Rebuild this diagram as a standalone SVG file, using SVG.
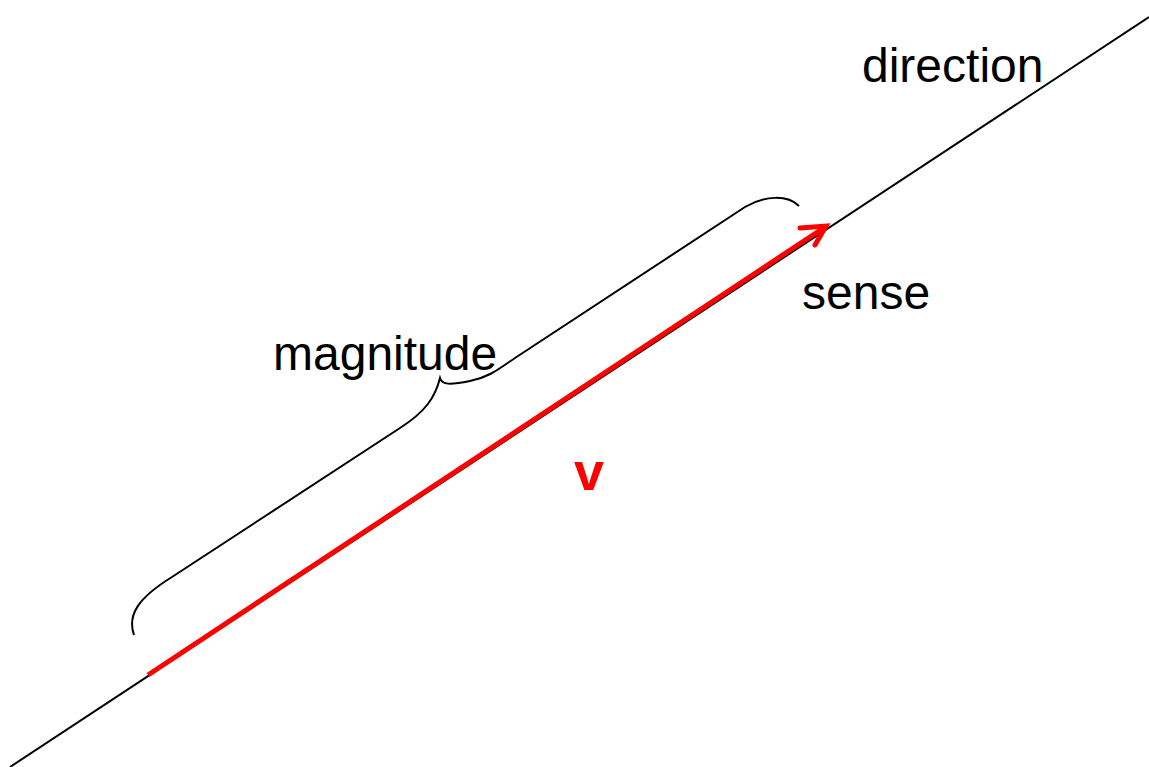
<svg xmlns="http://www.w3.org/2000/svg" width="1149" height="767" viewBox="0 0 1149 767">
<style>
.lbl{font-family:"Liberation Sans",Arial,sans-serif;font-size:48px;fill:#000}
.v{font-family:"Liberation Sans",Arial,sans-serif;font-size:54px;font-weight:bold;fill:#ff0000}
.thin{fill:none;stroke:#000;stroke-width:2}
</style>
<rect width="1149" height="767" fill="#fff"/>
<g id="connectors">
<line id="direction-line" class="thin" x1="10" y1="767" x2="1149" y2="17"/>
<path id="brace" class="thin" d="M134,635 C127,615 138,598 172,577 L400,428 C425,412 435,398 440,378 C442,385 450,385 470,381 C490,377 500,368 515,358 L745,207 C765,195 788,195 799,206"/>
<g id="vector">
<line x1="148" y1="675" x2="822" y2="229" stroke="#ff0000" stroke-width="5"/>
<polyline points="800,228 826,226 815,245" fill="none" stroke="#ff0000" stroke-width="5" stroke-linecap="round" stroke-linejoin="miter"/>
</g>
</g>
<g id="label-direction"><text class="lbl" x="862" y="82">direction</text></g>
<g id="label-sense"><text class="lbl" x="802" y="309">sense</text></g>
<g id="label-magnitude"><text class="lbl" x="273" y="370">magnitude</text></g>
<g id="label-v"><text class="v" x="574" y="490">v</text></g>
</svg>
